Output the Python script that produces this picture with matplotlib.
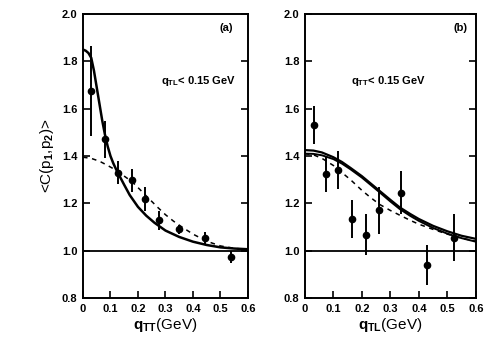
import matplotlib
matplotlib.use("Agg")
import matplotlib.pyplot as plt

plt.rcParams['font.family'] = ['Liberation Sans', 'DejaVu Sans']
plt.rcParams['font.weight'] = 'bold'
plt.rcParams['mathtext.fontset'] = 'custom'
plt.rcParams['mathtext.rm'] = 'Liberation Sans:bold'
plt.rcParams['mathtext.it'] = 'Liberation Sans:bold'

# panel (a): data points
qa = [0.03, 0.079, 0.127, 0.18, 0.227, 0.275, 0.35, 0.445, 0.54]
ca = [1.673, 1.47, 1.33, 1.297, 1.217, 1.128, 1.09, 1.054, 0.974]
ea = [0.19, 0.08, 0.05, 0.05, 0.05, 0.04, 0.02, 0.025, 0.025]
# panel (a): curves
qa_solid = [0.0, 0.01, 0.02, 0.03, 0.04, 0.05, 0.06, 0.07, 0.08, 0.09, 0.1,
            0.11, 0.12, 0.13, 0.15, 0.17, 0.2, 0.23, 0.26, 0.3, 0.35, 0.4,
            0.45, 0.5, 0.55, 0.6]
ca_solid = [1.85, 1.845, 1.835, 1.815, 1.76, 1.69, 1.62, 1.55, 1.49, 1.44, 1.40,
            1.37, 1.345, 1.322, 1.278, 1.235, 1.185, 1.148, 1.118, 1.085, 1.058, 1.038,
            1.024, 1.014, 1.009, 1.006]
qa_dash = [0.0, 0.03, 0.06, 0.09, 0.12, 0.15, 0.18, 0.21, 0.24, 0.27, 0.3,
           0.33, 0.36, 0.4, 0.45, 0.5, 0.55, 0.6]
ca_dash = [1.395, 1.39, 1.378, 1.36, 1.34, 1.315, 1.29, 1.255, 1.22, 1.185, 1.152,
           1.124, 1.10, 1.07, 1.04, 1.02, 1.01, 1.005]

# panel (b): data points
qb = [0.032, 0.073, 0.117, 0.166, 0.215, 0.26, 0.338, 0.43, 0.525]
cb = [1.53, 1.325, 1.34, 1.133, 1.068, 1.17, 1.245, 0.94, 1.055]
eb = [0.08, 0.077, 0.08, 0.08, 0.085, 0.1, 0.09, 0.085, 0.1]
# panel (b): curves
qb_solid = [0.0, 0.03, 0.06, 0.1, 0.13, 0.16, 0.2, 0.23, 0.26, 0.3, 0.333,
            0.37, 0.4, 0.45, 0.5, 0.55, 0.6]
cb_solid1 = [1.425, 1.423, 1.415, 1.395, 1.375, 1.35, 1.315, 1.285, 1.255, 1.215, 1.183,
             1.155, 1.134, 1.105, 1.082, 1.063, 1.05]
cb_solid2 = [1.41, 1.409, 1.403, 1.387, 1.368, 1.344, 1.309, 1.279, 1.249, 1.208, 1.176,
             1.147, 1.126, 1.096, 1.072, 1.053, 1.038]
qb_dash = [0.0, 0.03, 0.06, 0.1, 0.13, 0.16, 0.2, 0.23, 0.263, 0.3, 0.333,
           0.37, 0.4, 0.45, 0.5, 0.55, 0.6]
cb_dash = [1.41, 1.405, 1.39, 1.36, 1.33, 1.30, 1.255, 1.225, 1.195, 1.17, 1.15,
           1.128, 1.112, 1.09, 1.07, 1.053, 1.04]

xticks = [0, 0.1, 0.2, 0.3, 0.4, 0.5, 0.6]
xticklabels = ['0', '0.1', '0.2', '0.3', '0.4', '0.5', '0.6']
yticks = [0.8, 1.0, 1.2, 1.4, 1.6, 1.8, 2.0]
yticklabels = ['0.8', '1.0', '1.2', '1.4', '1.6', '1.8', '2.0']

fig = plt.figure(figsize=(4.91, 3.51), dpi=100)
ax_a = fig.add_axes([0.169, 0.151, 0.336, 0.809])
ax_b = fig.add_axes([0.621, 0.151, 0.348, 0.809])


def style_axis(ax, xlabel):
    ax.set_xlim(0, 0.6)
    ax.set_ylim(0.8, 2.0)
    ax.set_xticks(xticks)
    ax.set_xticklabels(xticklabels)
    ax.set_yticks(yticks)
    ax.set_yticklabels(yticklabels)
    ax.tick_params(direction='in', right=True, length=5, width=1.2,
                   labelsize=8, pad=4)
    ax.axhline(1.0, color='black', lw=1.3)
    for s in ax.spines.values():
        s.set_linewidth(1.4)
    ax.set_xlabel(xlabel, fontsize=11, labelpad=2)


ax_a.plot(qa_solid, ca_solid, color='black', lw=1.8)
ax_a.plot(qa_dash, ca_dash, color='black', lw=1.1, ls=(0, (3, 3)))
ax_a.errorbar(qa, ca, yerr=ea, fmt='o', color='black', ms=4.5,
              elinewidth=1.4, capsize=0)
style_axis(ax_a, r'$q_{TT}$(GeV)')
ax_a.set_ylabel(r'<C(p$_1$,p$_2$)>', fontsize=11, labelpad=4)
ax_a.text(0.83, 0.94, '(a)', transform=ax_a.transAxes, fontsize=8)
ax_a.text(0.47, 0.755, r'$q_{TL}$< 0.15 GeV', transform=ax_a.transAxes, fontsize=8)

ax_b.plot(qb_solid, cb_solid1, color='black', lw=1.6)
ax_b.plot(qb_solid, cb_solid2, color='black', lw=1.4)
ax_b.plot(qb_dash, cb_dash, color='black', lw=1.1, ls=(0, (3, 3)))
ax_b.errorbar(qb, cb, yerr=eb, fmt='o', color='black', ms=4.5,
              elinewidth=1.4, capsize=0)
style_axis(ax_b, r'$q_{TL}$(GeV)')
ax_b.text(0.87, 0.94, '(b)', transform=ax_b.transAxes, fontsize=8)
ax_b.text(0.27, 0.755, r'$q_{TT}$< 0.15 GeV', transform=ax_b.transAxes, fontsize=8)

fig.savefig('out.png', dpi=100)
